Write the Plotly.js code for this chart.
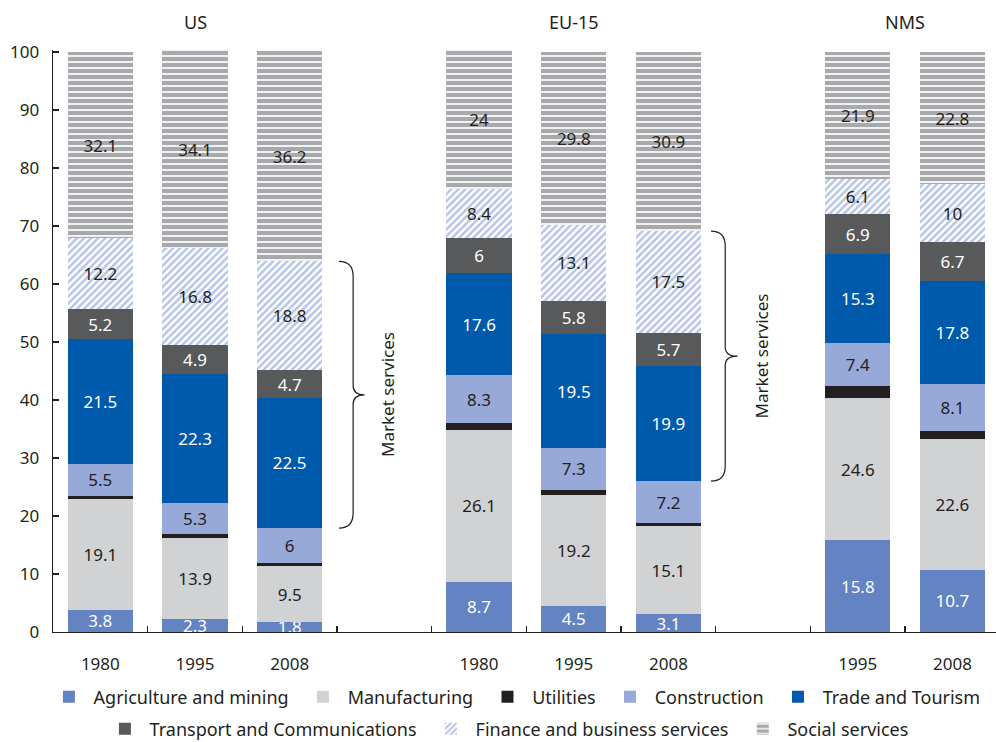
<!DOCTYPE html>
<html>
<head>
<meta charset="utf-8">
<script src="https://cdn.plot.ly/plotly-3.0.1.min.js"></script>
<style>html,body{margin:0;padding:0;background:#fff;}#chart{width:996px;height:742px;}</style>
</head>
<body>
<div id="chart"></div>
<script>
// Category positions (gaps between country groups) and tick labels
const xPos = [0, 1, 2, 4, 5, 6, 8, 9];
const years = ['1980', '1995', '2008', '1980', '1995', '2008', '1995', '2008'];
const groups = ['US', 'EU-15', 'NMS'];
const groupCenters = [1, 5, 8.5];

// Sector shares (% of total)
const agriculture   = [3.8, 2.3, 1.8, 8.7, 4.5, 3.1, 15.8, 10.7];
const manufacturing = [19.1, 13.9, 9.5, 26.1, 19.2, 15.1, 24.6, 22.6];
const utilities     = [0.6, 0.7, 0.6, 1.2, 0.8, 0.6, 2.0, 1.3];
const construction  = [5.5, 5.3, 6, 8.3, 7.3, 7.2, 7.4, 8.1];
const trade         = [21.5, 22.3, 22.5, 17.6, 19.5, 19.9, 15.3, 17.8];
const transport     = [5.2, 4.9, 4.7, 6, 5.8, 5.7, 6.9, 6.7];
const finance       = [12.2, 16.8, 18.8, 8.4, 13.1, 17.5, 6.1, 10];
const social        = [32.1, 34.1, 36.2, 24, 29.8, 30.9, 21.9, 22.8];

const FONT = '"Noto Sans", "Open Sans", sans-serif';
const DARK = '#231f20';
const NB = '\u00a0';

function bar(name, vals, color, textColor, legend, pattern, showText) {
  const t = {
    type: 'bar', name: NB + name + NB + NB, x: xPos, y: vals,
    marker: { color: color, line: { width: 0 } },
    text: vals.map(v => String(v)),
    texttemplate: '%{text}',
    textposition: showText ? 'inside' : 'none',
    insidetextanchor: 'middle',
    textangle: 0,
    constraintext: 'none',
    insidetextfont: { family: FONT, size: 17, color: textColor },
    hoverinfo: 'skip',
    legend: legend
  };
  if (pattern) t.marker.pattern = pattern;
  return t;
}

const data = [
  bar('Agriculture and mining', agriculture, '#6383c3', '#ffffff', 'legend', null, true),
  bar('Manufacturing', manufacturing, '#d1d2d4', DARK, 'legend', null, true),
  bar('Utilities', utilities, DARK, DARK, 'legend', null, false),
  bar('Construction', construction, '#97a9d8', DARK, 'legend', null, true),
  bar('Trade and Tourism', trade, '#005aab', '#ffffff', 'legend', null, true),
  bar('Transport and Communications', transport, '#58595b', '#ffffff', 'legend2', null, true),
  bar('Finance and business services', finance, '#ffffff', DARK, 'legend2',
      { shape: '/', fgcolor: '#b6c4e6', bgcolor: '#ffffff', size: 5, solidity: 0.5, fillmode: 'replace' }, true),
  bar('Social services', social, '#ffffff', DARK, 'legend2',
      { shape: '-', fgcolor: '#a7a9ac', bgcolor: '#ffffff', size: 6, solidity: 0.72, fillmode: 'replace' }, true)
];

// Market services brace extents, computed from the 2008 bars of US and EU-15
function braceFor(i, xa, xb, xc) {
  const bottom = agriculture[i] + manufacturing[i] + utilities[i] + construction[i];
  const top = bottom + trade[i] + transport[i] + finance[i];
  const mid = (top + bottom) / 2;
  const r = 2.6, m = 1.6;
  const path = `M${xa},${top} Q${xb},${top} ${xb},${top - r} L${xb},${mid + m} Q${xb},${mid} ${xc},${mid} ` +
               `Q${xb},${mid} ${xb},${mid - m} L${xb},${bottom + r} Q${xb},${bottom} ${xa},${bottom}`;
  return { shape: { type: 'path', xref: 'x', yref: 'y', path: path, line: { color: DARK, width: 1.2 } }, mid: mid };
}
const b1 = braceFor(2, 2.52, 2.67, 2.79);
const b2 = braceFor(5, 6.45, 6.6, 6.73);

const annotations = groups.map((g, i) => ({
  text: g, x: groupCenters[i], xref: 'x', y: 1.048, yref: 'paper',
  showarrow: false, xanchor: 'center', yanchor: 'middle',
  font: { family: FONT, size: 18, color: DARK }
}));
annotations.push({ text: 'Market services', x: 3.04, xref: 'x', y: b1.mid, yref: 'y', textangle: -90,
  showarrow: false, font: { family: FONT, size: 17, color: DARK } });
annotations.push({ text: 'Market services', x: 6.98, xref: 'x', y: b2.mid, yref: 'y', textangle: -90,
  showarrow: false, font: { family: FONT, size: 17, color: DARK } });

const layout = {
  width: 996, height: 742,
  margin: { l: 53, r: 0, t: 50, b: 110 },
  paper_bgcolor: '#ffffff', plot_bgcolor: '#ffffff',
  barmode: 'stack', bargap: 0.31,
  font: { family: FONT, size: 17, color: DARK },
  showlegend: true,
  xaxis: {
    range: [-0.5, 9.46], showgrid: false, zeroline: false,
    showline: true, linecolor: DARK, linewidth: 1.3,
    tickmode: 'array', tickvals: xPos, ticktext: years, ticks: '',
    ticklabelstandoff: 16,
    tickfont: { family: FONT, size: 17, color: DARK },
    minor: { tickmode: 'array', tickvals: [0.5, 1.5, 2.5, 3.5, 4.5, 5.5, 6.5, 7.5, 8.5],
             ticks: 'inside', ticklen: 6, tickcolor: DARK, tickwidth: 1.3, showgrid: false }
  },
  yaxis: {
    range: [0, 100.345], showgrid: false, zeroline: false,
    showline: true, linecolor: DARK, linewidth: 1.3,
    tickmode: 'linear', tick0: 0, dtick: 10,
    ticks: 'inside', ticklen: 6, tickcolor: DARK, tickwidth: 1.3,
    ticklabelstandoff: 9,
    tickfont: { family: FONT, size: 17, color: DARK }
  },
  legend: {
    orientation: 'h', xref: 'container', x: 0.524, xanchor: 'center',
    yref: 'container', y: 1 - 697 / 742, yanchor: 'middle',
    traceorder: 'normal', font: { family: FONT, size: 18, color: DARK },
    bgcolor: 'rgba(0,0,0,0)', itemclick: false
  },
  legend2: {
    orientation: 'h', xref: 'container', x: 0.516, xanchor: 'center',
    yref: 'container', y: 1 - 729 / 742, yanchor: 'middle',
    traceorder: 'normal', font: { family: FONT, size: 18, color: DARK },
    bgcolor: 'rgba(0,0,0,0)', itemclick: false
  },
  shapes: [b1.shape, b2.shape],
  annotations: annotations
};

Plotly.newPlot('chart', data, layout, { staticPlot: true, displayModeBar: false });
</script>
</body>
</html>
